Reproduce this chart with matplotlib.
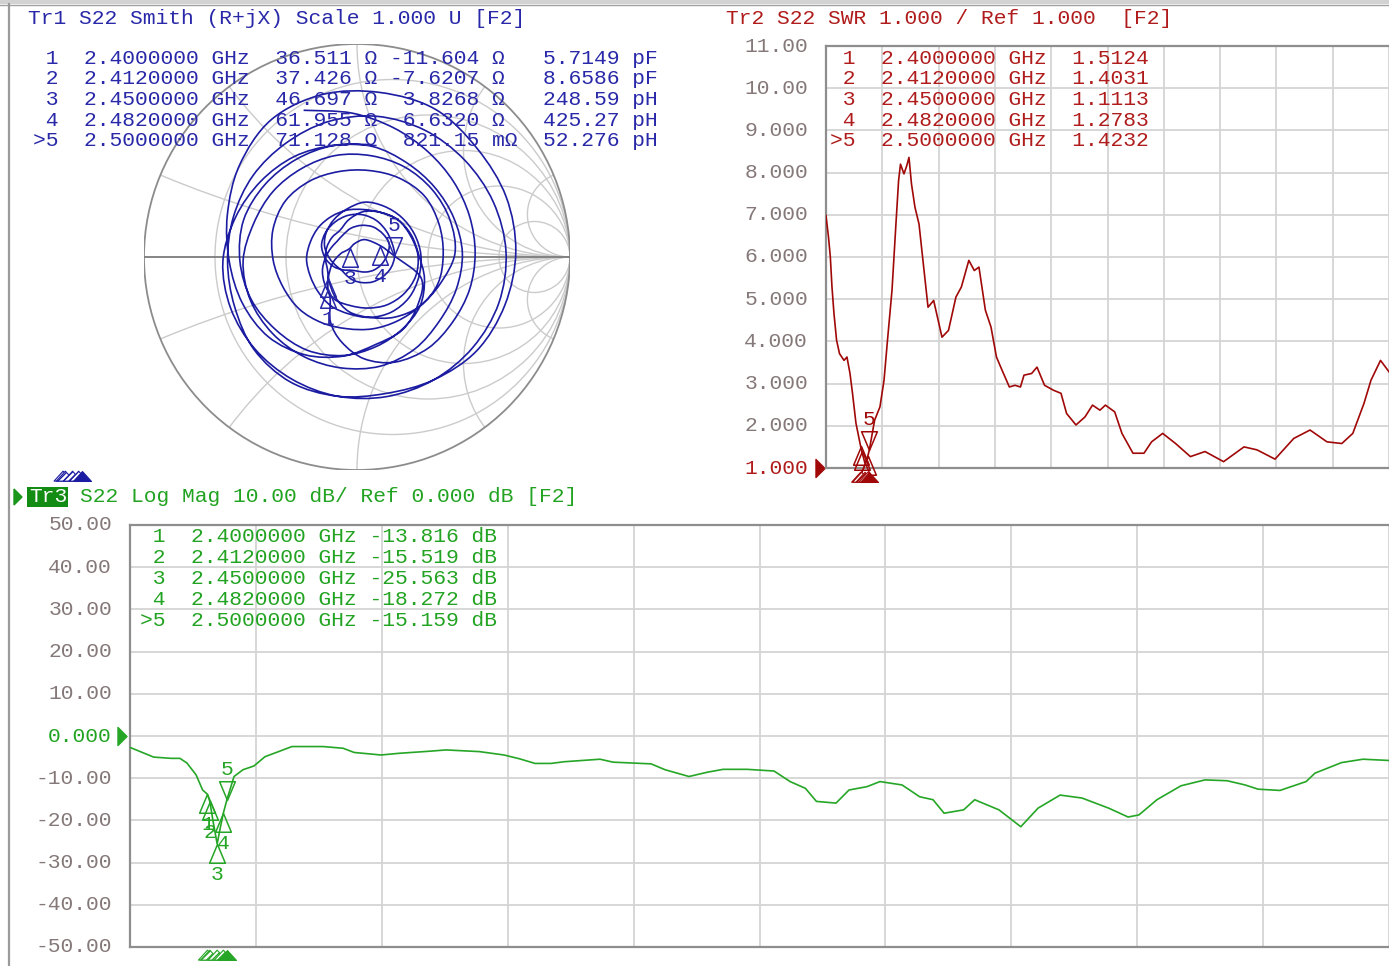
import numpy as np
import matplotlib
matplotlib.use("Agg")
import matplotlib.pyplot as plt
from matplotlib.patches import Circle, Rectangle, Polygon, PathPatch
from matplotlib.path import Path
from matplotlib.lines import Line2D

# ------------------------------------------------------------------ data
F_START, F_STOP = 2.0, 8.5          # GHz (stimulus span of all traces)

MK_PREFIX = [" 1", " 2", " 3", " 4", ">5"]
MK_LABEL = ["1", "2", "3", "4", "5"]
MK_FREQ = [2.400, 2.412, 2.450, 2.482, 2.500]
MK_R = [36.511, 37.426, 46.697, 61.955, 71.128]
MK_X = [-11.604, -7.6207, 3.8268, 6.6320, 0.82115]
MK_X_TXT = ["-11.604 \u03a9", "-7.6207 \u03a9", " 3.8268 \u03a9", " 6.6320 \u03a9", " 821.15 m\u03a9"]
MK_LC_TXT = ["5.7149 pF", "8.6586 pF", "248.59 pH", "425.27 pH", "52.276 pH"]
MK_SWR = [1.5124, 1.4031, 1.1113, 1.2783, 1.4232]
MK_DB = [-13.816, -15.519, -25.563, -18.272, -15.159]
ACTIVE = 4

# SWR trace
swr_freq = [2.000, 2.029, 2.050, 2.069, 2.092, 2.122, 2.156, 2.208, 2.242, 2.277,
            2.306, 2.346, 2.400, 2.412, 2.450, 2.482, 2.500, 2.561, 2.623, 2.670,
            2.710, 2.762, 2.805, 2.838, 2.860, 2.900, 2.932, 2.958, 2.987, 3.027,
            3.074, 3.115, 3.178, 3.243, 3.286, 3.339, 3.414, 3.500, 3.563, 3.649,
            3.712, 3.766, 3.840, 3.905, 3.968, 4.032, 4.117, 4.182, 4.245, 4.286,
            4.374, 4.436, 4.523, 4.629, 4.713, 4.778, 4.886, 4.990, 5.077, 5.163,
            5.226, 5.333, 5.417, 5.544, 5.671, 5.759, 5.887, 6.036, 6.207, 6.376,
            6.590, 6.826, 6.976, 7.184, 7.400, 7.588, 7.784, 7.955, 8.082, 8.211,
            8.292, 8.402, 8.500]
swr_vals = [6.98, 6.47, 6.00, 5.29, 4.66, 4.03, 3.71, 3.55, 3.63, 3.24,
            2.77, 2.06, 1.5124, 1.4031, 1.1113, 1.2783, 1.4232, 2.13, 2.45, 3.08,
            4.03, 5.21, 6.70, 7.81, 8.20, 7.97, 8.16, 8.36, 7.73, 7.18,
            6.78, 6.00, 4.81, 4.97, 4.58, 4.10, 4.26, 5.05, 5.29, 5.92,
            5.68, 5.76, 4.74, 4.34, 3.63, 3.32, 2.92, 2.96, 2.92, 3.20,
            3.24, 3.39, 2.96, 2.84, 2.77, 2.29, 2.02, 2.21, 2.49, 2.37,
            2.49, 2.33, 1.82, 1.35, 1.35, 1.62, 1.82, 1.58, 1.27, 1.39,
            1.15, 1.50, 1.43, 1.21, 1.70, 1.90, 1.62, 1.58, 1.82, 2.53,
            3.08, 3.55, 3.28]

# Log-mag trace (dB)
db_freq = [2.000, 2.122, 2.214, 2.258, 2.294, 2.341, 2.375, 2.400, 2.412, 2.430,
           2.450, 2.465, 2.482, 2.500, 2.537, 2.583, 2.640, 2.697, 2.767, 2.836,
           2.996, 3.100, 3.157, 3.296, 3.389, 3.549, 3.631, 3.804, 3.931, 4.011,
           4.091, 4.174, 4.241, 4.427, 4.494, 4.690, 4.763, 4.840, 4.886, 4.979,
           5.062, 5.186, 5.325, 5.408, 5.487, 5.544, 5.645, 5.712, 5.805, 5.872,
           5.986, 6.077, 6.146, 6.203, 6.304, 6.361, 6.486, 6.554, 6.599, 6.688,
           6.802, 6.915, 7.053, 7.153, 7.209, 7.302, 7.426, 7.550, 7.664, 7.757,
           7.824, 7.937, 8.072, 8.118, 8.255, 8.366, 8.500]
db_vals = [-2.7, -5.0, -5.3, -5.3, -6.4, -9.2, -12.8, -13.816, -15.519, -20.5,
           -25.563, -22.0, -18.272, -15.159, -9.6, -8.0, -7.1, -4.9, -3.7, -2.5,
           -2.5, -2.9, -3.9, -4.5, -4.1, -3.6, -3.3, -3.7, -4.5, -5.4,
           -6.5, -6.5, -6.1, -5.5, -6.2, -6.6, -8.0, -9.0, -9.6, -8.6,
           -7.9, -7.9, -8.3, -10.8, -12.4, -15.5, -15.9, -12.8, -12.0, -10.8,
           -11.6, -14.4, -15.1, -18.3, -17.5, -15.1, -17.5, -19.9, -21.5, -17.1,
           -14.0, -14.7, -17.1, -19.2, -18.7, -15.1, -11.8, -10.4, -10.6, -11.6,
           -12.6, -12.9, -10.8, -8.8, -6.3, -5.5, -5.8]

# Smith trace: reflection coefficient read as (angle deg, magnitude) along the sweep
smith_start_ang = [110, 92, 74, 56, 38, 20, 2, -16, -34, -52, -70, -86, -100, -112, -122]
smith_start_mag = [0.733, 0.676, 0.630, 0.596, 0.575, 0.562, 0.555, 0.550, 0.543, 0.543,
                   0.525, 0.479, 0.407, 0.331, 0.237]
smith_mk_ang = [-131.7, -143.8, -165, -190, -212, -231.5, -262, -295, -334.4, -358.2]
smith_mk_mag = [0.204, 0.1675, 0.120, 0.080, 0.058, 0.0527, 0.065, 0.090, 0.122, 0.1746]
smith_loop_ang = [342, 322, 302, 282, 262, 242, 222, 202, 182, 162, 142, 122, 102, 82, 62, 42, 22, 2]
smith_loop_mag = [
    [.316, .363, .403, .42, .47, .52, .56, .58, .60, .64, .70, .76, .78, .78, .785, .76, .755, .746],
    [.73, .714, .68, .655, .66, .665, .65, .62, .608, .61, .62, .63, .65, .667, .675, .68, .69, .70],
    [.70, .69, .68, .67, .66, .65, .645, .64, .63, .60, .575, .556, .535, .524, .50, .49, .49, .495],
    [.49, .49, .51, .524, .526, .53, .535, .54, .535, .51, .50, .49, .487, .48, .478, .474, .47, .46],
    [.41, .375, .355, .345, .34, .35, .365, .375, .394, .415, .427, .42, .41, .41, .42, .427, .415, .405],
    [.40, .375, .333, .29, .26, .215, .175, .15, .149, .149, .149, .149, .18, .215, .237, .26, .27, .286],
    [.29, .28, .265, .245, .23, .225, .2, .175, .149, .13, .119, .123, .138, .15, .16, .163, .163, .14],
    [.119, .1, .083, .07, .065, .07, .09, .119, .149, .175, .187, .194, .2, .2, .194, .184, .177, .177],
    [.167, .152, .138, .123, .111, .1, .095, .107, .13, .16, .184, .206, .23, .26, .27, .28, .29, .30],
    [.305, .31, .305, .29, .27, .26, .245, .237, .237, .23, .228, .225, .225, .225, .237, .26, .275, .29],
    [.333, .375, .40, .43, .467, .496, .512, .535, .55, .56, .55, .54, .535, .533],
]
SMITH_R_CIRCLES = [0.2, 0.5, 1.0, 2.0, 5.0]
SMITH_X_ARCS = [0.2, 0.5, 1.0, 2.0, 5.0]
Z0 = 50.0

SWR_TICKS = [1, 2, 3, 4, 5, 6, 7, 8, 9, 10, 11]
SWR_TICK_LABELS = ["1.000", "2.000", "3.000", "4.000", "5.000", "6.000", "7.000",
                   "8.000", "9.000", "10.00", "11.00"]
SWR_REF = 1.0
DB_TICKS = [-50, -40, -30, -20, -10, 0, 10, 20, 30, 40, 50]
DB_TICK_LABELS = ["-50.00", "-40.00", "-30.00", "-20.00", "-10.00", "0.000",
                  "10.00", "20.00", "30.00", "40.00", "50.00"]
DB_REF = 0.0

TITLE_SMITH = "Tr1 S22 Smith (R+jX) Scale 1.000 U [F2]"
TITLE_SWR = "Tr2 S22 SWR 1.000 / Ref 1.000  [F2]"
TITLE_LOG_TAG = "Tr3"
TITLE_LOG = "S22 Log Mag 10.00 dB/ Ref 0.000 dB [F2]"

# ------------------------------------------------------------------ style
W, H = 1389, 966
FONT = ['Liberation Mono', 'DejaVu Sans Mono']
FS = 15.3
BLUE_TXT, BLUE_TR = '#2828a8', '#1c1ca2'
RED_TXT, RED_TR = '#b01c1c', '#a00808'
GREEN_TXT, GREEN_TR = '#22a322', '#26a626'
LBL = '#857878'
GRID = '#d4d4d4'
FRAME = '#8e8e8e'
SM_GRID = '#cbcbcb'

plt.rcParams['font.family'] = FONT
fig = plt.figure(figsize=(W / 100, H / 100), dpi=100)
fig.patch.set_facecolor('white')


def box(x0, y0, x1, y1):
    return [x0 / W, 1 - y1 / H, (x1 - x0) / W, (y1 - y0) / H]


def fx(x):
    return x / W


def fy(y):
    return 1 - y / H


def ftext(x, y, s, color, **kw):
    fig.text(fx(x), fy(y), s, color=color, fontsize=FS, family=FONT,
             ha=kw.pop('ha', 'left'), va=kw.pop('va', 'center'), **kw)


def smooth_path(x, y):
    """Smooth curve through the read points (cubic Bezier, Catmull-Rom tangents)."""
    P = np.column_stack([x, y])
    E = np.vstack([P[0], P, P[-1]])
    verts, codes = [P[0]], [Path.MOVETO]
    for i in range(len(P) - 1):
        p0, p1, p2, p3 = E[i], E[i + 1], E[i + 2], E[i + 3]
        verts += [p1 + (p2 - p0) / 6.0, p2 - (p3 - p1) / 6.0, p2]
        codes += [Path.CURVE4] * 3
    return Path(verts, codes)


# window frame
fig.add_artist(Rectangle((0, fy(4)), 1, 4 / H, transform=fig.transFigure,
                         facecolor='#d2d2d2', edgecolor='none'))
fig.add_artist(Line2D([0, 1], [fy(4.5)] * 2, transform=fig.transFigure, color='#a0a0a0', lw=1.0))
fig.add_artist(Line2D([fx(8.5)] * 2, [fy(4), 0], transform=fig.transFigure, color='#9a9a9a', lw=1.6))

TRI_UP = Path([(0, 0), (-0.42, -1), (0.42, -1), (0, 0)],
              [Path.MOVETO, Path.LINETO, Path.LINETO, Path.CLOSEPOLY])
TRI_DN = Path([(0, 0), (-0.42, 1), (0.42, 1), (0, 0)],
              [Path.MOVETO, Path.LINETO, Path.LINETO, Path.CLOSEPOLY])
IND = Path([(-1, -0.55), (1, -0.55), (0, 0.55), (-1, -0.55)],
           [Path.MOVETO, Path.LINETO, Path.LINETO, Path.CLOSEPOLY])
RIGHT = Path([(-0.5, -1), (0.5, 0), (-0.5, 1), (-0.5, -1)],
             [Path.MOVETO, Path.LINETO, Path.LINETO, Path.CLOSEPOLY])


def draw_markers(ax, xs, ys, color, shown_labels=(0, 1, 2, 3, 4)):
    for i, (x, y) in enumerate(zip(xs, ys)):
        up = (i != ACTIVE)
        ax.plot([x], [y], marker=TRI_UP if up else TRI_DN, ms=27, mfc='none',
                mec=color, mew=1.1, ls='none', clip_on=False, zorder=5)
        if i in shown_labels:
            ax.annotate(MK_LABEL[i], (x, y), xytext=(0, -22 if up else 22),
                        textcoords='offset points', ha='center', va='center',
                        color=color, fontsize=FS, family=FONT, annotation_clip=False, zorder=5)


def indicators(rect, xlim, color):
    axi = fig.add_axes(box(*rect))
    axi.set_xlim(*xlim)
    axi.set_ylim(0, 1)
    axi.set_axis_off()
    plt.rcParams['hatch.color'] = color
    plt.rcParams['hatch.linewidth'] = 1.0
    others = [f for i, f in enumerate(MK_FREQ) if i != ACTIVE]
    axi.scatter(others, [0.45] * len(others), marker=IND, s=13 ** 2, facecolors='white',
                edgecolors=color, linewidths=0.8, hatch='//////', clip_on=False)
    axi.scatter([MK_FREQ[ACTIVE]], [0.45], marker=IND, s=13 ** 2, facecolors=color,
                edgecolors=color, linewidths=0.8, clip_on=False)


def style_rect(ax, ylim, yticks):
    ax.set_xlim(F_START, F_STOP)
    ax.set_ylim(*ylim)
    ax.set_xticks(np.linspace(F_START, F_STOP, 11))
    ax.set_yticks(yticks)
    ax.tick_params(length=0, labelleft=False, labelbottom=False)
    ax.grid(True, color=GRID, lw=1.3)
    ax.set_axisbelow(True)
    for s in ['left', 'top', 'bottom']:
        ax.spines[s].set_color(FRAME)
        ax.spines[s].set_linewidth(1.6)
    ax.spines['right'].set_visible(False)


# ------------------------------------------------------------------ Smith chart (Tr1)
ax_s = fig.add_axes(box(144, 44, 570, 470))
ax_s.set_xlim(-1, 1)
ax_s.set_ylim(-1, 1)
ax_s.set_axis_off()
unit = Circle((0, 0), 1, transform=ax_s.transData)
for r in SMITH_R_CIRCLES:
    ax_s.add_patch(Circle((r / (1 + r), 0), 1 / (1 + r), fill=False, ec=SM_GRID, lw=1.0))
for x in SMITH_X_ARCS:
    for sgn in (1, -1):
        c = Circle((1, sgn / x), 1 / x, fill=False, ec=SM_GRID, lw=1.0)
        ax_s.add_patch(c)
        c.set_clip_path(unit)
ax_s.add_patch(Circle((0, 0), 1, fill=False, ec='#8c8c8c', lw=1.3))
ax_s.plot([-1, 1], [0, 0], color='#7c7c7c', lw=1.3)

s_ang = list(smith_start_ang) + list(smith_mk_ang)
s_mag = list(smith_start_mag) + list(smith_mk_mag)
for loop in smith_loop_mag:
    s_ang += smith_loop_ang[:len(loop)]
    s_mag += loop
s_ang = np.deg2rad(np.array(s_ang, dtype=float))
s_mag = np.array(s_mag)
ax_s.add_patch(PathPatch(smooth_path(s_mag * np.cos(s_ang), s_mag * np.sin(s_ang)),
                         fill=False, ec=BLUE_TR, lw=1.2, zorder=3))

z = np.array(MK_R) + 1j * np.array(MK_X)
gam = (z - Z0) / (z + Z0)
draw_markers(ax_s, gam.real, gam.imag, BLUE_TXT, shown_labels=(0, 2, 3, 4))
indicators((0, 469, 700, 482), (2.068, 5.753), BLUE_TR)

ftext(28, 18, TITLE_SMITH, BLUE_TXT)
for i in range(5):
    row = f"{MK_PREFIX[i]}  {MK_FREQ[i]:.7f} GHz  {MK_R[i]:.3f} \u03a9 {MK_X_TXT[i]:<10}  {MK_LC_TXT[i]}"
    ftext(33, 58 + 20.75 * i, row, BLUE_TXT)

# ------------------------------------------------------------------ SWR (Tr2)
ax_w = fig.add_axes(box(826, 46, 1389, 468))
style_rect(ax_w, (1, 11), SWR_TICKS)
ax_w.plot(swr_freq, swr_vals, color=RED_TR, lw=1.2, zorder=3)
draw_markers(ax_w, MK_FREQ, MK_SWR, RED_TR, shown_labels=(ACTIVE,))
for v, t in zip(SWR_TICKS, SWR_TICK_LABELS):
    ax_w.text(-0.032, v, t, transform=ax_w.get_yaxis_transform(), ha='right', va='center',
              color=RED_TXT if v == SWR_REF else LBL, fontsize=FS, family=FONT)
ax_w.plot([-0.0107], [SWR_REF], marker=RIGHT, ms=13, color=RED_TR, transform=ax_w.get_yaxis_transform(),
          clip_on=False)
indicators((826, 469, 1389, 484), (F_START, F_STOP), RED_TR)
ftext(726, 18, TITLE_SWR, RED_TXT)
for i in range(5):
    ftext(830, 58 + 20.75 * i, f"{MK_PREFIX[i]}  {MK_FREQ[i]:.7f} GHz  {MK_SWR[i]:.4f}", RED_TXT)

# ------------------------------------------------------------------ Log Mag (Tr3)
ax_l = fig.add_axes(box(130, 525, 1389, 947))
style_rect(ax_l, (-50, 50), DB_TICKS)
ax_l.plot(db_freq, db_vals, color=GREEN_TR, lw=1.2, zorder=3)
draw_markers(ax_l, MK_FREQ, MK_DB, GREEN_TR)
for v, t in zip(DB_TICKS, DB_TICK_LABELS):
    ax_l.text(-0.0143, v, t, transform=ax_l.get_yaxis_transform(), ha='right', va='center',
              color=GREEN_TXT if v == DB_REF else LBL, fontsize=FS, family=FONT)
ax_l.plot([-0.006], [DB_REF], marker=RIGHT, ms=13, color=GREEN_TR, transform=ax_l.get_yaxis_transform(),
          clip_on=False)
indicators((130, 948, 1389, 961), (F_START, F_STOP), GREEN_TR)

fig.add_artist(Polygon([(fx(14), fy(489)), (fx(22), fy(497)), (fx(14), fy(505))],
                       closed=True, transform=fig.transFigure, color='#1a961a'))
fig.add_artist(Rectangle((fx(27), fy(507)), 41 / W, 20 / H, transform=fig.transFigure,
                         facecolor='#128c12', edgecolor='none'))
ftext(29, 497, TITLE_LOG_TAG, 'white')
ftext(79.6, 497, TITLE_LOG, GREEN_TXT)
for i in range(5):
    ftext(140, 537 + 20.75 * i, f"{MK_PREFIX[i]}  {MK_FREQ[i]:.7f} GHz {MK_DB[i]:.3f} dB", GREEN_TXT)

fig.savefig("out.png", dpi=100, facecolor='white')
